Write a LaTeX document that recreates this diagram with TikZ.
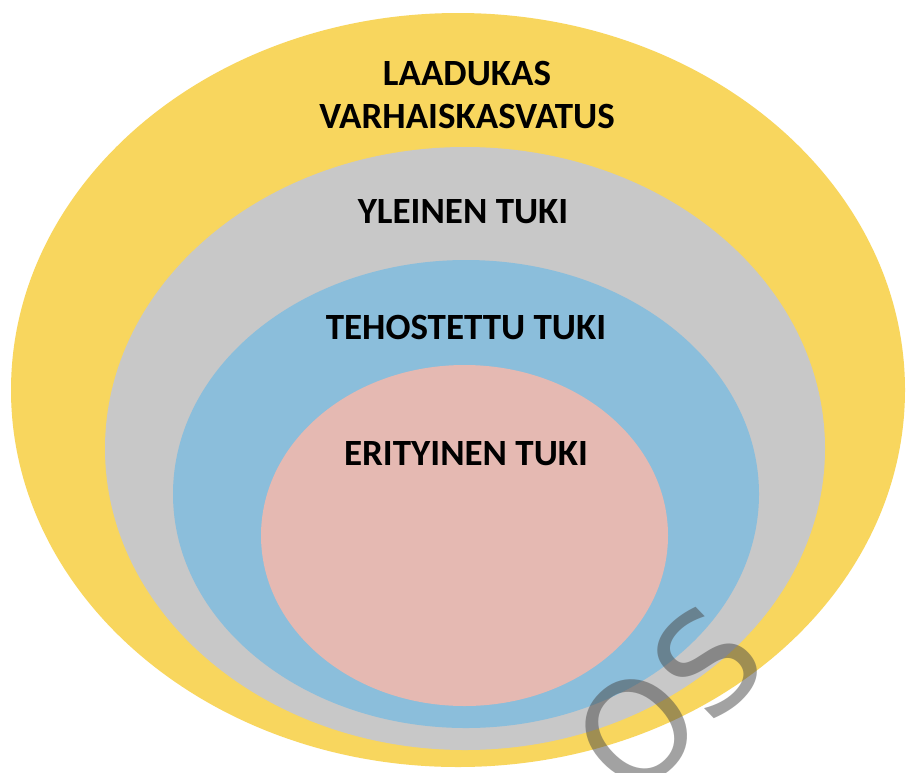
\documentclass[tikz,border=0pt]{standalone}
\usepackage{fontspec}
\setmainfont{Carlito}
\newfontfamily\wmfont{DejaVu Sans}
\definecolor{cyellow}{RGB}{248,214,94}
\definecolor{cgrey}{RGB}{200,200,200}
\definecolor{cblue}{RGB}{139,190,219}
\definecolor{cpink}{RGB}{229,185,178}
\tikzset{
  label/.style={anchor=base, inner sep=0pt, align=center, text=black,
    font=\bfseries\fontsize{37}{43}\selectfont},
  watermark/.style={text=black!72, opacity=0.5, inner sep=0pt,
    font=\wmfont\fontsize{138}{138}\selectfont}
}
\begin{document}
\begin{tikzpicture}[x=1pt,y=-1pt]
\useasboundingbox (0,0) rectangle (909,772);
\fill[white] (0,0) rectangle (909,772);
\fill[cyellow] (458,390) ellipse [x radius=447, y radius=377];
\fill[cgrey] (465,448.5) ellipse [x radius=360, y radius=301.5];
\fill[cblue] (466,494) ellipse [x radius=293, y radius=234];
\fill[cpink] (464.5,535.5) ellipse [x radius=203.5, y radius=170.5];
\node[label] (laatu) at (467,128) {LAADUKAS\\VARHAISKASVATUS};
\node[label] (yleinen) at (463,223) {YLEINEN TUKI};
\node[label] (tehostettu) at (466,339) {TEHOSTETTU TUKI};
\node[label] (erityinen) at (466,465) {ERITYINEN TUKI};
\node[watermark, rotate=44] (wm) at (668,700) {OS};
\end{tikzpicture}
\end{document}
